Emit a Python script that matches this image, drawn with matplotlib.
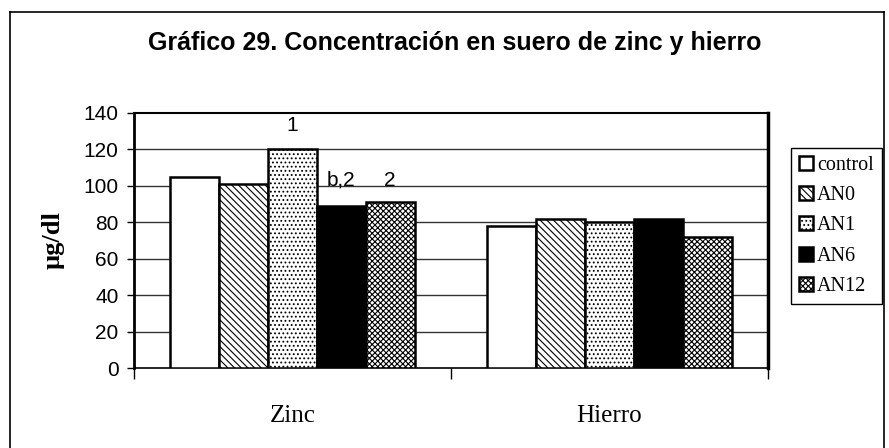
import matplotlib.pyplot as plt
from matplotlib.lines import Line2D
import numpy as np

# ==========================
# Data
# ==========================
categories = ["Zinc", "Hierro"]
series = ["control", "AN0", "AN1", "AN6", "AN12"]
control = [105, 78]
an0 = [101, 82]
an1 = [120, 80]
an6 = [89, 82]
an12 = [91, 72]
# significance marks above the Zinc bars (series index, text)
marks = [(2, "1"), (3, "b,2"), (4, "2")]
yticks = [0, 20, 40, 60, 80, 100, 120, 140]

values = [control, an0, an1, an6, an12]

# ==========================
# Styles
# ==========================
faces = ["white", "white", "white", "black", "white"]
hatches = [None, "\\\\\\\\\\", "....", None, "xxxxxx"]

plt.rcParams["hatch.linewidth"] = 0.8
fig = plt.figure(figsize=(8.89, 4.48), dpi=100)
ax = fig.add_axes([134 / 889, 1 - 368 / 448, 634 / 889, 255 / 448])

x = np.arange(len(categories))
w = 0.154
bars = []
for i, (name, vals) in enumerate(zip(series, values)):
    b = ax.bar(x + (i - 2) * w, vals, w, color=faces[i], edgecolor="black",
               hatch=hatches[i], linewidth=1.8, label=name, zorder=3)
    bars.append(b)

for i, txt in marks:
    r = bars[i][0]
    ymark = 133 if txt == "1" else 103
    ax.text(r.get_x() + r.get_width() / 2, ymark, txt, ha="center", va="center",
            fontsize=15, family="Liberation Sans")

ax.set_xlim(-0.5, 1.5)
ax.set_ylim(0, 140)
ax.set_yticks(yticks)
ax.set_yticklabels([str(t) for t in yticks], family="Liberation Sans", fontsize=15)
ax.tick_params(axis="y", direction="out", length=5, width=1, pad=6)

ax.set_xticks([-0.5, 0.5, 1.5])
ax.set_xticklabels([])
ax.set_xticks(x, minor=True)
ax.set_xticklabels(categories, minor=True, family="Liberation Serif", fontsize=18)
ax.tick_params(axis="x", which="major", direction="out", length=8, width=1)
ax.tick_params(axis="x", which="minor", length=0, pad=27)

for t in yticks[1:-1]:
    ax.axhline(t, color="#333333", lw=1, zorder=1)

ax.spines["left"].set_linewidth(2)
ax.spines["right"].set_linewidth(2.5)
ax.spines["top"].set_linewidth(1.5)
ax.spines["bottom"].set_linewidth(1.2)

ax.set_ylabel("µg/dl", family="Liberation Serif", fontweight="bold", fontsize=19,
              labelpad=14)

fig.text(455 / 889, 1 - 43 / 448, "Gráfico 29. Concentración en suero de zinc y hierro",
         ha="center", va="center", fontsize=18, fontweight="bold",
         family="Liberation Sans")

leg = fig.legend(loc="upper left", bbox_to_anchor=(791 / 889, 1 - 148 / 448),
                 prop={"family": "Liberation Serif", "size": 14.5},
                 handlelength=0.7, handleheight=0.7, handletextpad=0.2,
                 labelspacing=0.55, borderpad=0.4, borderaxespad=0,
                 fancybox=False, edgecolor="black", framealpha=1)
leg.get_frame().set_linewidth(1)

# outer frame of the chart (open at bottom)
fig.add_artist(Line2D([10 / 889, 10 / 889], [0, 1 - 12 / 448], color="black", lw=1.2))
fig.add_artist(Line2D([10 / 889, 884 / 889], [1 - 12 / 448, 1 - 12 / 448], color="black", lw=1.2))
fig.add_artist(Line2D([884 / 889, 884 / 889], [0, 1 - 12 / 448], color="black", lw=1.2))

fig.savefig("out.png", dpi=100)
